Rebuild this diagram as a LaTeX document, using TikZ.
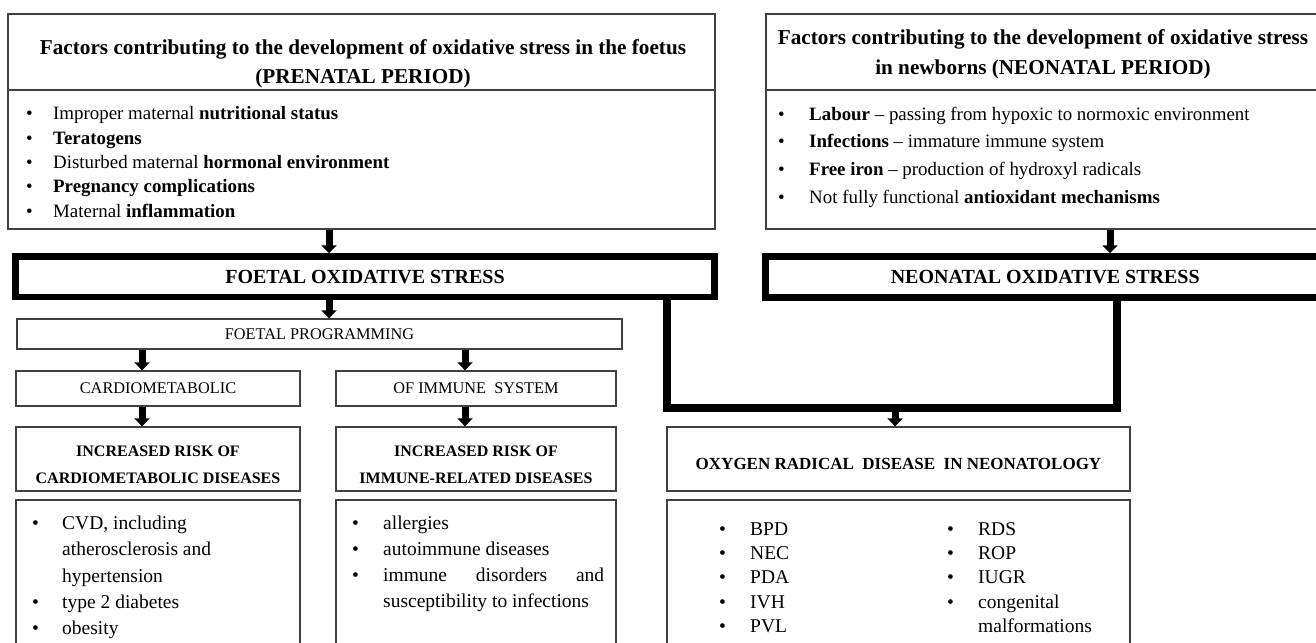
\documentclass[tikz,border=0pt]{standalone}
\usepackage{fontspec}
\setmainfont{Liberation Serif}
\usetikzlibrary{arrows.meta}

\newlength\bulwd
\newcommand\bitem{\makebox[\bulwd][l]{\textbullet}}
\newcommand\bcont{\hspace*{\bulwd}}

\begin{document}
\begin{tikzpicture}[x=1pt,y=-1pt]
\tikzstyle{every node}+=[inner sep=0pt]
\tikzstyle{box}=[draw=black!75, line width=1.3pt]
\tikzstyle{heavybox}=[draw=black, line width=6.5pt, font=\fontsize{20}{24}\selectfont\bfseries]
\tikzstyle{capsbox}=[box, font=\fontsize{16.3}{20}\selectfont]
\tikzstyle{risktxt}=[align=center, font=\fontsize{16}{27}\selectfont\bfseries]
\tikzstyle{headtxt}=[align=center, font=\fontsize{21.2}{29.5}\selectfont\bfseries]
\tikzstyle{listtxt}=[align=left, anchor=west]
\tikzstyle{fatarrow}=[line width=7pt, -{Triangle[width=15pt,length=8pt]}]
\tikzstyle{bracket}=[line width=8pt, line join=miter]
\useasboundingbox (0,0) rectangle (1316,642);
\clip (0,0) rectangle (1316,642);
\fill[white] (0,0) rectangle (1316,642);

\node[box, minimum width=707pt, minimum height=76pt] (preHead) at (361.5,52) {};
\node[box, minimum width=707pt, minimum height=139pt] (preList) at (361.5,159.5) {};
\node[headtxt] (preHeadTxt) at (363,64) {Factors contributing to the development of oxidative stress in the foetus\\(PRENATAL PERIOD)};
\node[listtxt, font=\fontsize{18.9}{24.3}\selectfont\setlength\bulwd{27pt}] (preListTxt) at (26,162) {%
\bitem Improper maternal \textbf{nutritional status}\\
\bitem\textbf{Teratogens}\\
\bitem Disturbed maternal \textbf{hormonal environment}\\
\bitem\textbf{Pregnancy complications}\\
\bitem Maternal \textbf{inflammation}};

\node[box, minimum width=556pt, minimum height=76pt] (neoHead) at (1044,52) {};
\node[box, minimum width=556pt, minimum height=139pt] (neoList) at (1044,159.5) {};
\node[headtxt] (neoHeadTxt) at (1043,54.5) {Factors contributing to the development of oxidative stress\\in newborns (NEONATAL PERIOD)};
\node[listtxt, font=\fontsize{18.9}{27.7}\selectfont\setlength\bulwd{31pt}] (neoListTxt) at (778,157) {%
\bitem\textbf{Labour} -- passing from hypoxic to normoxic environment\\
\bitem\textbf{Infections} -- immature immune system\\
\bitem\textbf{Free iron} -- production of hydroxyl radicals\\
\bitem Not fully functional \textbf{antioxidant mechanisms}};

\node[heavybox, minimum width=699pt, minimum height=40.5pt] (fos) at (365,276.75) {FOETAL OXIDATIVE STRESS};
\node[heavybox, minimum width=559.5pt, minimum height=41pt] (nos) at (1045.25,277) {NEONATAL OXIDATIVE STRESS};

\node[capsbox, minimum width=605pt, minimum height=30pt] (fp) at (319.5,334) {FOETAL PROGRAMMING};
\node[capsbox, minimum width=284pt, minimum height=35pt] (cardio) at (158,388.5) {CARDIOMETABOLIC};
\node[capsbox, minimum width=280pt, minimum height=35pt] (immune) at (476,388.5) {OF IMMUNE\ \ SYSTEM};

\node[box, minimum width=284pt, minimum height=64pt] (irCardio) at (158,459) {};
\node[risktxt] (irCardioTxt) at (158,465) {INCREASED RISK OF\\CARDIOMETABOLIC DISEASES};
\node[box, minimum width=280pt, minimum height=64pt] (irImmune) at (476,459) {};
\node[risktxt] (irImmuneTxt) at (476,465) {INCREASED RISK OF\\IMMUNE-RELATED DISEASES};
\node[box, minimum width=463pt, minimum height=64pt] (ordn) at (898.5,459) {};
\node[risktxt, font=\fontsize{17}{27}\selectfont\bfseries] (ordnTxt) at (898.5,463.5) {OXYGEN RADICAL\ \ DISEASE\ \ IN NEONATOLOGY};

\node[box, minimum width=284pt, minimum height=180pt] (cardioList) at (158,590) {};
\node[listtxt, font=\fontsize{19.5}{26.2}\selectfont\setlength\bulwd{30pt}] (cardioListTxt) at (32,577.5) {%
\bitem CVD, including\\
\bcont atherosclerosis and\\
\bcont hypertension\\
\bitem type 2 diabetes\\
\bitem obesity};
\node[box, minimum width=280pt, minimum height=180pt] (immuneList) at (476,590) {};
\node[listtxt, font=\fontsize{19.5}{26}\selectfont\setlength\bulwd{31pt}] (immuneListTxt) at (352,563.5) {%
\bitem allergies\\
\bitem autoimmune diseases\\
\bitem\makebox[221pt][s]{immune disorders and}\\
\bcont susceptibility to infections};
\node[box, minimum width=463pt, minimum height=180pt] (ordnList) at (898.5,590) {};
\node[listtxt, font=\fontsize{19.5}{24.3}\selectfont\setlength\bulwd{31pt}] (ordnColA) at (719,577.5) {%
\bitem BPD\\
\bitem NEC\\
\bitem PDA\\
\bitem IVH\\
\bitem PVL};
\node[listtxt, font=\fontsize{19.5}{24.3}\selectfont\setlength\bulwd{31pt}] (ordnColB) at (947,577.5) {%
\bitem RDS\\
\bitem ROP\\
\bitem IUGR\\
\bitem congenital\\
\bcont malformations};

\coordinate (colA) at (329,0);
\coordinate (colB) at (1110,0);
\coordinate (colC) at (142,0);
\coordinate (colD) at (465,0);
\coordinate (brL) at (667,408);
\coordinate (brM) at (895,408);
\coordinate (brR) at (1117,408);

\draw[fatarrow] (preList.south -| colA) -- (fos.north -| colA);
\draw[fatarrow] (neoList.south -| colB) -- (nos.north -| colB);
\draw[fatarrow] (fos.south -| colA) -- (fp.north -| colA);
\draw[fatarrow] (fp.south -| colC) -- (cardio.north -| colC);
\draw[fatarrow] (fp.south -| colD) -- (immune.north -| colD);
\draw[fatarrow] (cardio.south -| colC) -- (irCardio.north -| colC);
\draw[fatarrow] (immune.south -| colD) -- (irImmune.north -| colD);
\draw[bracket] (fos.south -| brL) -- (brL) -- (brR) -- (nos.south -| brR);
\draw[fatarrow] (brM) -- (ordn.north -| brM);
\end{tikzpicture}
\end{document}
